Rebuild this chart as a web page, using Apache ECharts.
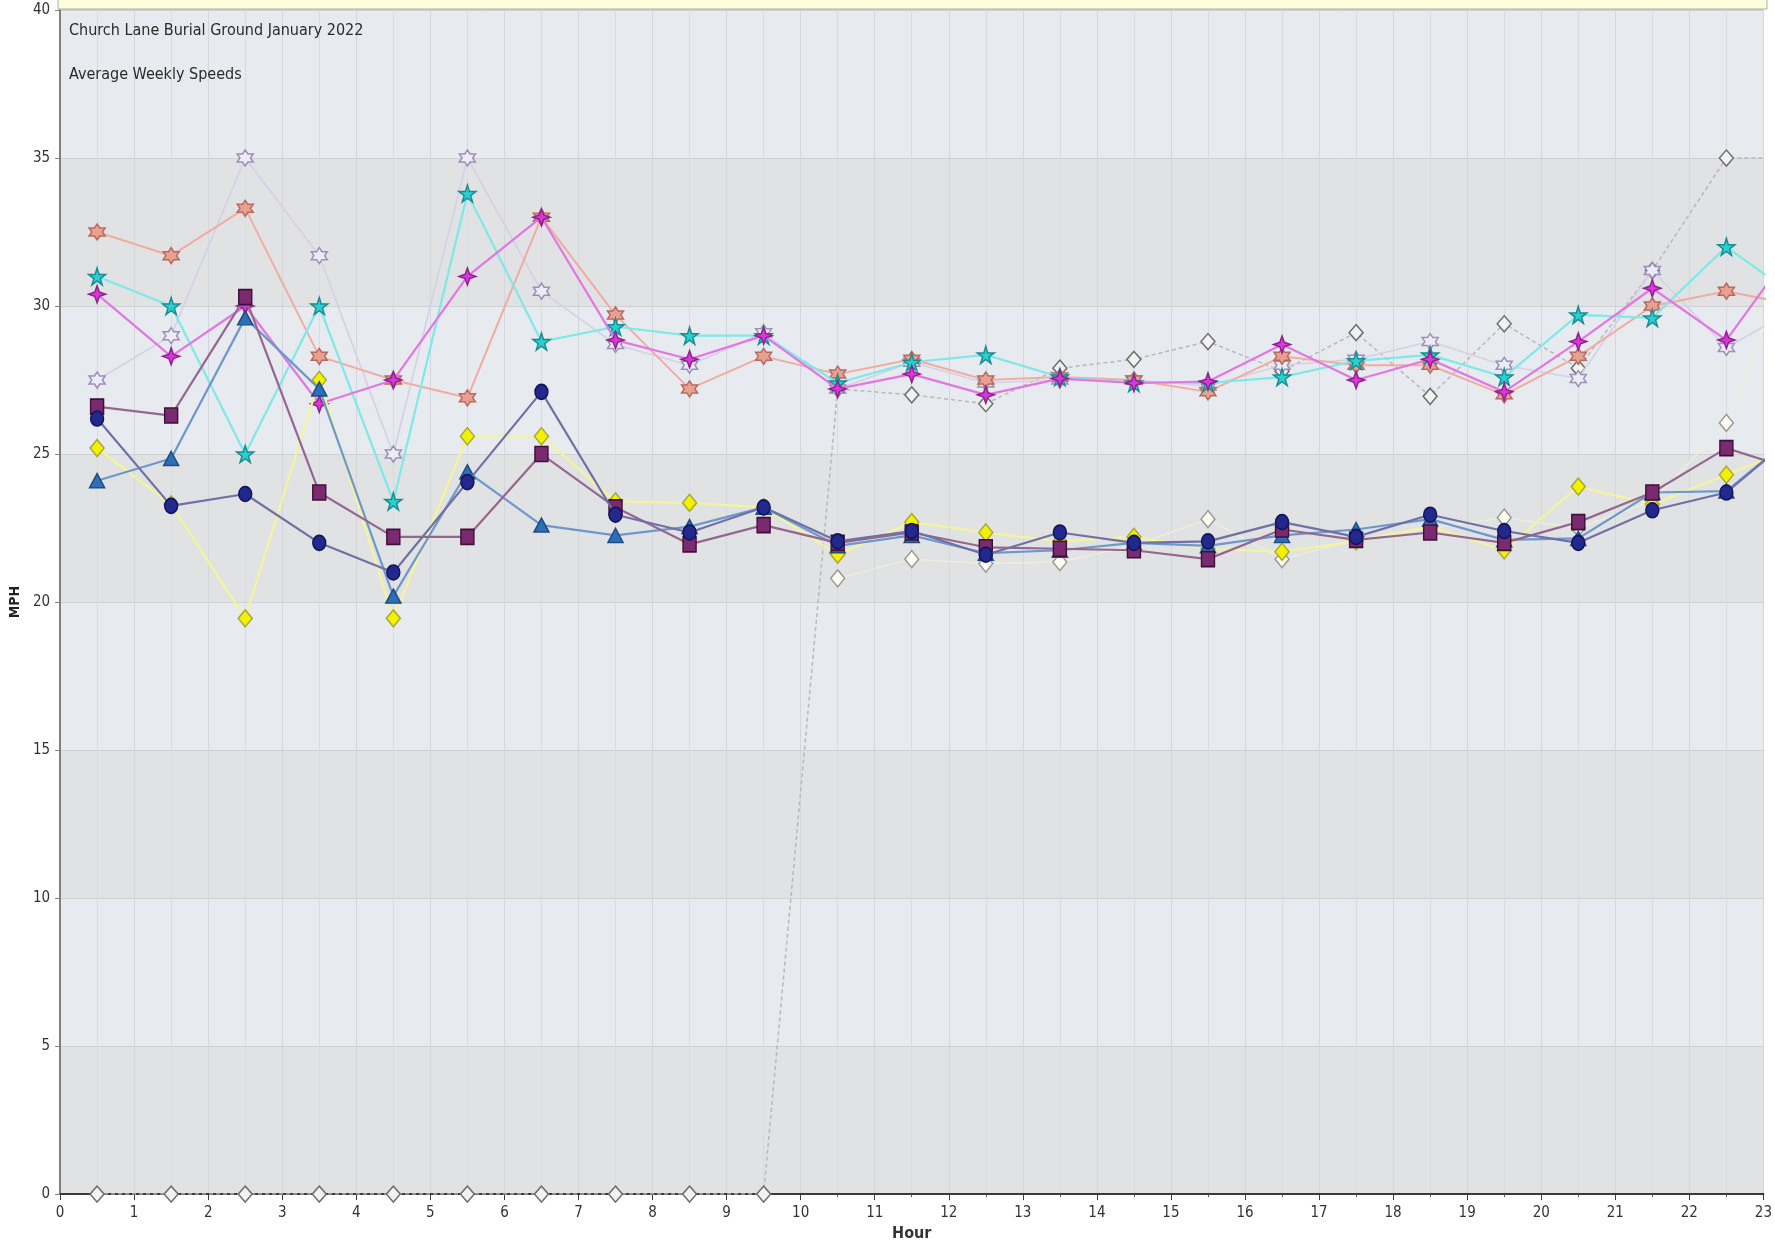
<!DOCTYPE html>
<html>
<head>
<meta charset="utf-8">
<script src="https://cdn.jsdelivr.net/npm/echarts@6/dist/echarts.min.js"></script>
<style>
html,body{margin:0;padding:0;background:#fff;}
#chart{width:1775px;height:1247px;}
</style>
</head>
<body>
<div id="chart"></div>
<script>
// ---- data ----
const hours = [0.5,1.5,2.5,3.5,4.5,5.5,6.5,7.5,8.5,9.5,10.5,11.5,12.5,13.5,14.5,15.5,16.5,17.5,18.5,19.5,20.5,21.5,22.5,23.5];
const xTicks = [0,1,2,3,4,5,6,7,8,9,10,11,12,13,14,15,16,17,18,19,20,21,22,23];
const yTicks = [0,5,10,15,20,25,30,35,40];
const titleMain = "Church Lane Burial Ground January 2022";
const titleSub = "Average Weekly Speeds";
const xName = "Hour";
const yName = "MPH";

const salmonStar = [32.5,31.7,33.3,28.3,27.5,26.9,33.0,29.7,27.2,28.3,27.7,28.2,27.5,27.6,27.5,27.1,28.3,28.0,28.0,27.0,28.3,30.0,30.5,30.0];
const lavenderStar = [27.5,29.0,35.0,31.7,25.0,35.0,30.5,28.7,28.0,29.1,27.2,28.1,27.4,27.5,27.5,27.3,28.0,28.2,28.8,28.0,27.55,31.2,28.6,30.0];
const cyanStar = [31.0,30.0,25.0,30.0,23.4,33.8,28.8,29.3,29.0,29.0,27.4,28.1,28.35,27.6,27.4,27.4,27.6,28.15,28.35,27.6,29.7,29.6,32.0,30.2];
const magentaStar = [30.4,28.3,30.0,26.7,27.5,31.0,33.0,28.85,28.2,29.0,27.2,27.7,27.0,27.55,27.4,27.45,28.7,27.5,28.2,27.1,28.8,30.6,28.85,32.3];
const greyMarker = [0,0,0,0,0,0,0,0,0,0,27.2,27.0,26.7,27.9,28.2,28.8,27.8,29.1,26.95,29.4,27.9,31.2,35.0,35.0];
const purpleSquare = [26.6,26.3,30.3,23.7,22.2,22.2,25.0,23.2,21.95,22.6,22.0,22.35,21.85,21.8,21.75,21.45,22.45,22.1,22.35,22.0,22.7,23.7,25.2,24.4];
const navyCircle = [26.2,23.25,23.65,22.0,21.0,24.05,27.1,22.95,22.35,23.2,22.05,22.4,21.6,22.35,22.0,22.05,22.7,22.2,22.95,22.4,22.0,23.1,23.7,25.8];
const blueTriangle = [24.1,24.85,29.6,27.2,20.2,24.4,22.6,22.25,22.55,23.2,21.9,22.25,21.65,21.75,22.0,21.9,22.25,22.45,22.8,22.1,22.15,23.7,23.75,25.8];
const yellowDiamond = [25.2,23.3,19.45,27.5,19.45,25.6,25.6,23.4,23.35,23.2,21.6,22.7,22.35,22.05,22.2,21.8,21.7,22.05,22.55,21.75,23.9,23.3,24.3,25.3];
const whiteDiamond = [null,null,null,null,null,null,null,null,null,null,20.8,21.45,21.3,21.35,21.9,22.8,21.45,22.1,22.5,22.85,22.5,23.4,26.05,32.4];

// ---- symbols ----
const STAR5 = 'path://M50,0 L61,35 L98,35 L68,57 L79,91 L50,70 L21,91 L32,57 L2,35 L39,35 Z';
const STAR6 = 'path://M50,0 L64.4,25 L93.3,25 L78.9,50 L93.3,75 L64.4,75 L50,100 L35.6,75 L6.7,75 L21.1,50 L6.7,25 L35.6,25 Z';
const STAR4 = 'path://M50,0 L63,37 L100,50 L63,63 L50,100 L37,63 L0,50 L37,37 Z';

function pts(vals){ return hours.map((h,i)=>[h, vals[i]]); }

function mk(name, vals, sym, size, fill, stroke, lineColor, lineWidth, lineType, z){
  return {
    name: name, type:'line', data: pts(vals), symbol: sym, symbolSize: size,
    showAllSymbol: true, connectNulls: false, clip: true, z: z,
    itemStyle:{color: fill, borderColor: stroke, borderWidth: 1.5},
    lineStyle:{color: lineColor, width: lineWidth, type: lineType},
    emphasis:{disabled:true}, animation:false
  };
}

const series = [
  mk('grey', greyMarker, 'diamond', [14,16], '#f2f2f2', '#6e6e6e', '#b8b8b8', 1.5, [4,3], 2),
  mk('lavender', lavenderStar, STAR6, 16, '#eeeaf6', '#9a90b8', '#d6d0e6', 1.6, 'solid', 3),
  mk('salmon', salmonStar, STAR6, 16, '#e8a090', '#b86a5e', '#f1aca2', 2, 'solid', 4),
  mk('cyan', cyanStar, STAR5, 17, '#2ad0d0', '#1a8c94', '#7fe8e8', 2.2, 'solid', 5),
  mk('magenta', magentaStar, STAR4, 17, '#d838d8', '#902090', '#e277e2', 2.2, 'solid', 6),
  mk('white', whiteDiamond, 'diamond', [14,17], '#fffff2', '#9a9a9a', '#eeeedd', 1.5, 'solid', 7),
  mk('yellow', yellowDiamond, 'diamond', [14,17], '#f2f200', '#a8a838', '#f4f49a', 2.2, 'solid', 8),
  mk('triangle', blueTriangle, 'triangle', [15,14], '#2e6fb8', '#1d4d85', '#6e98cc', 2.2, 'solid', 9),
  mk('square', purpleSquare, 'rect', [13,15], '#7a2a6e', '#3e1038', '#94688e', 2.2, 'solid', 10),
  mk('navy', navyCircle, 'circle', [13,15], '#22288c', '#10145a', '#6f70a6', 2.2, 'solid', 11)
];

const FONT = '"Liberation Sans Narrow","DejaVu Sans Condensed","Liberation Sans",sans-serif';

const chart = echarts.init(document.getElementById('chart'), null, {renderer:'canvas'});
chart.setOption({
  backgroundColor:'#ffffff',
  animation:false,
  textStyle:{fontFamily: FONT},
  title:[
    {text: titleMain, left: 64, top: 18, textStyle:{fontFamily:FONT, fontSize:16, fontWeight:'normal', color:'#2a2a2a'}},
    {text: titleSub, left: 64, top: 62, textStyle:{fontFamily:FONT, fontSize:16, fontWeight:'normal', color:'#2a2a2a'}}
  ],
  legend:{show:false},
  grid:{left:58, right:8, top:10, bottom:50, show:true, borderColor:'#a0a0a0', borderWidth:1, backgroundColor:'transparent'},
  graphic:[
    {type:'rect', shape:{x:58, y:-4, width:1709, height:13}, style:{fill:'#fdfddc', stroke:'#b0b0a0', lineWidth:1}, z:100, silent:true}
  ],
  xAxis:{
    type:'value', min: xTicks[0], max: xTicks[xTicks.length-1], interval:1,
    name: xName, nameLocation:'middle', nameGap:30,
    nameTextStyle:{fontFamily:FONT, fontSize:16, fontWeight:'bold', color:'#333'},
    axisLine:{show:true, onZero:false, lineStyle:{color:'#3a3a3a', width:2}},
    axisTick:{show:true, length:6, lineStyle:{color:'#3a3a3a'}},
    minorTick:{show:true, splitNumber:2, length:3, lineStyle:{color:'#555'}},
    axisLabel:{fontFamily:FONT, fontSize:15, color:'#333', margin:12},
    splitLine:{show:true, lineStyle:{color:'#d3d6db', width:1}},
    minorSplitLine:{show:true, lineStyle:{color:'#d8dbe0', width:1}}
  },
  yAxis:{
    type:'value', min: yTicks[0], max: yTicks[yTicks.length-1], interval:5,
    name: yName, nameLocation:'middle', nameGap:36,
    nameTextStyle:{fontFamily:FONT, fontSize:14, fontWeight:'bold', color:'#222'},
    axisLine:{show:true, lineStyle:{color:'#808080', width:2}},
    axisTick:{show:true, length:5, lineStyle:{color:'#808080'}},
    axisLabel:{fontFamily:FONT, fontSize:15, color:'#333', margin:10},
    splitLine:{show:true, lineStyle:{color:'#cfd0d2', width:1}},
    splitArea:{show:true, areaStyle:{color:['#e1e2e4','#e7eaee']}}
  },
  series: series
});
</script>
</body>
</html>
